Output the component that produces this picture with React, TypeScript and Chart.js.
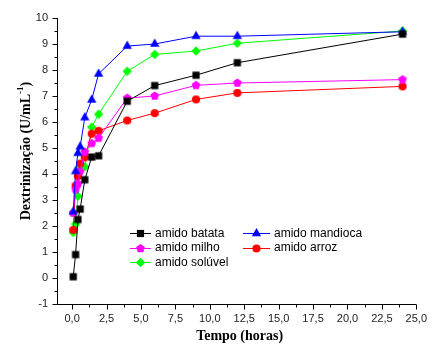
import React, { useEffect, useRef } from 'react';
import { Chart, registerables } from 'chart.js';

Chart.register(...registerables);

// ---- data ----
const timeHours = [0.08, 0.25, 0.42, 0.58, 0.92, 1.42, 1.92, 4, 6, 9, 12, 24];
const amidoBatata = [0.05, 0.9, 2.25, 2.65, 3.78, 4.65, 4.7, 6.8, 7.4, 7.8, 8.28, 9.38];
const amidoMandioca = [2.55, 4.1, 4.8, 5.05, 6.17, 6.85, 7.85, 8.92, 9.0, 9.3, 9.3, 9.47];
const amidoMilho = [2.5, 3.4, 3.62, 4.1, 4.85, 5.18, 5.38, 6.92, 7.0, 7.41, 7.5, 7.63];
const amidoArroz = [1.85, 3.55, 3.92, 4.4, 4.64, 5.55, 5.66, 6.06, 6.34, 6.87, 7.12, 7.37];
const amidoSoluvel = [1.75, 2.07, 3.15, 4.26, 4.28, 5.8, 6.3, 7.95, 8.6, 8.73, 9.03, 9.5];

const seriesNames = ['amido batata', 'amido mandioca', 'amido milho', 'amido arroz', 'amido solúvel'];
const xTickValues = [0, 2.5, 5, 7.5, 10, 12.5, 15, 17.5, 20, 22.5, 25];
const xTickLabels = ['0,0', '2,5', '5,0', '7,5', '10,0', '12,5', '15,0', '17,5', '20,0', '22,5', '25,0'];
const yTickValues = [-1, 0, 1, 2, 3, 4, 5, 6, 7, 8, 9, 10];
const yTickLabels = ['-1', '0', '1', '2', '3', '4', '5', '6', '7', '8', '9', '10'];
const xTitle = 'Tempo (horas)';
const yTitleMain = 'Dextrinização (U/mL';
const yTitleSup = '-1';
const yTitleEnd = ')';

type Shape = 'square' | 'triangle' | 'pentagon' | 'circle' | 'diamond';

function drawShape(ctx: CanvasRenderingContext2D, shape: Shape, x: number, y: number, color: string) {
  ctx.save();
  ctx.fillStyle = color;
  ctx.beginPath();
  if (shape === 'square') {
    ctx.rect(x - 3.6, y - 3.6, 7.2, 7.2);
  } else if (shape === 'triangle') {
    const r = 5.4;
    ctx.moveTo(x, y - r);
    ctx.lineTo(x + r * 0.866, y + r * 0.5);
    ctx.lineTo(x - r * 0.866, y + r * 0.5);
    ctx.closePath();
  } else if (shape === 'pentagon') {
    const r = 4.6;
    for (let i = 0; i < 5; i++) {
      const a = -Math.PI / 2 + (i * 2 * Math.PI) / 5;
      const px = x + r * Math.cos(a);
      const py = y + r * Math.sin(a);
      if (i === 0) ctx.moveTo(px, py);
      else ctx.lineTo(px, py);
    }
    ctx.closePath();
  } else if (shape === 'circle') {
    ctx.arc(x, y, 4.1, 0, Math.PI * 2);
  } else {
    const r = 4.7;
    ctx.moveTo(x, y - r);
    ctx.lineTo(x + r, y);
    ctx.lineTo(x, y + r);
    ctx.lineTo(x - r, y);
    ctx.closePath();
  }
  ctx.fill();
  ctx.restore();
}

function makeMarker(shape: Shape, color: string): HTMLCanvasElement {
  const c = document.createElement('canvas');
  c.width = 12;
  c.height = 12;
  const cx = c.getContext('2d')!;
  drawShape(cx, shape, 6, 6, color);
  return c;
}

const seriesColors = ['#000000', '#0000ff', '#ff00ff', '#ff0000', '#00ff00'];
const seriesShapes: Shape[] = ['square', 'triangle', 'pentagon', 'circle', 'diamond'];
const seriesValues = [amidoBatata, amidoMandioca, amidoMilho, amidoArroz, amidoSoluvel];

const decorPlugin = {
  id: 'decor',
  afterDraw(chart: any) {
    const { ctx, chartArea, scales } = chart;
    const xs = scales.x;
    const ys = scales.y;
    ctx.save();
    ctx.strokeStyle = '#000';
    ctx.lineWidth = 1;
    const L = Math.round(chartArea.left) + 0.5;
    const B = Math.round(chartArea.bottom) + 0.5;
    ctx.beginPath();
    ctx.moveTo(L, chartArea.top);
    ctx.lineTo(L, B);
    ctx.lineTo(chartArea.right, B);
    ctx.stroke();
    // y ticks
    ctx.beginPath();
    yTickValues.forEach((v) => {
      const p = Math.round(ys.getPixelForValue(v)) + 0.5;
      ctx.moveTo(L - 5, p);
      ctx.lineTo(L, p);
      const m = v - 0.5;
      if (m >= ys.min) {
        const pm = Math.round(ys.getPixelForValue(m)) + 0.5;
        ctx.moveTo(L - 3, pm);
        ctx.lineTo(L, pm);
      }
    });
    // x ticks
    xTickValues.forEach((v) => {
      const p = Math.round(xs.getPixelForValue(v)) + 0.5;
      ctx.moveTo(p, B);
      ctx.lineTo(p, B + 5);
      const m = v - 1.25;
      if (m >= xs.min) {
        const pm = Math.round(xs.getPixelForValue(m)) + 0.5;
        ctx.moveTo(pm, B);
        ctx.lineTo(pm, B + 3);
      }
    });
    ctx.stroke();

    // legend
    const rows = [233, 247.5, 262];
    const cols = [
      { x0: 130, x1: 151, mx: 140.5, tx: 155 },
      { x0: 243, x1: 270, mx: 256.5, tx: 274 },
    ];
    ctx.font = '12px "Liberation Sans", Arial, sans-serif';
    ctx.textBaseline = 'middle';
    ctx.textAlign = 'left';
    seriesNames.forEach((name, i) => {
      const r = Math.floor(i / 2);
      const c = cols[i % 2];
      const y = rows[r];
      ctx.strokeStyle = seriesColors[i];
      ctx.beginPath();
      ctx.moveTo(c.x0, Math.round(y) + 0.5);
      ctx.lineTo(c.x1, Math.round(y) + 0.5);
      ctx.stroke();
      drawShape(ctx, seriesShapes[i], c.mx, Math.round(y) + 0.5, seriesColors[i]);
      ctx.fillStyle = '#000';
      ctx.fillText(name, c.tx, y + 0.5);
    });

    // axis titles
    ctx.fillStyle = '#000';
    ctx.textAlign = 'center';
    ctx.textBaseline = 'middle';
    ctx.font = 'bold 14px "Liberation Serif", "Times New Roman", serif';
    ctx.fillText(xTitle, (chartArea.left + chartArea.right) / 2 + 3, 336);

    ctx.save();
    ctx.translate(26, 151);
    ctx.rotate(-Math.PI / 2);
    const mainFont = 'bold 14px "Liberation Serif", "Times New Roman", serif';
    const supFont = 'bold 9px "Liberation Serif", "Times New Roman", serif';
    ctx.font = mainFont;
    const w1 = ctx.measureText(yTitleMain).width;
    const w3 = ctx.measureText(yTitleEnd).width;
    ctx.font = supFont;
    const w2 = ctx.measureText(yTitleSup).width;
    const total = w1 + w2 + w3;
    let x = -total / 2;
    ctx.textAlign = 'left';
    ctx.textBaseline = 'middle';
    ctx.font = mainFont;
    ctx.fillText(yTitleMain, x, 0);
    x += w1;
    ctx.font = supFont;
    ctx.fillText(yTitleSup, x, -5);
    x += w2;
    ctx.font = mainFont;
    ctx.fillText(yTitleEnd, x, 0);
    ctx.restore();

    ctx.restore();
  },
};

export default function App() {
  const ref = useRef<HTMLCanvasElement | null>(null);
  useEffect(() => {
    if (!ref.current) return;
    const markers = seriesShapes.map((s, i) => makeMarker(s, seriesColors[i]));
    const chart = new Chart(ref.current, {
      type: 'line',
      data: {
        datasets: seriesNames.map((name, i) => ({
          label: name,
          data: timeHours.map((t, j) => ({ x: t, y: seriesValues[i][j] })),
          borderColor: seriesColors[i],
          backgroundColor: seriesColors[i],
          borderWidth: 1,
          pointStyle: markers[i] as any,
          pointRadius: 5,
          tension: 0,
          fill: false,
        })),
      },
      options: {
        animation: false,
        responsive: false,
        devicePixelRatio: 1,
        layout: { padding: { top: 18, right: 12, left: 0, bottom: 0 } },
        plugins: {
          legend: { display: false },
          tooltip: { enabled: false },
          title: { display: false },
        },
        scales: {
          x: {
            type: 'linear',
            min: -1.1,
            max: 25,
            grid: { display: false, drawTicks: false },
            border: { display: false },
            afterFit: (s: any) => {
              s.height = 41;
            },
            afterBuildTicks: (s: any) => {
              s.ticks = xTickValues.map((v) => ({ value: v }));
            },
            ticks: {
              padding: 8,
              autoSkip: false,
              maxRotation: 0,
              color: '#222',
              font: { size: 11, family: '"Liberation Sans", Arial, sans-serif' },
              callback: (v: any) => {
                const k = xTickValues.indexOf(Number(v));
                return k >= 0 ? xTickLabels[k] : '';
              },
            },
          },
          y: {
            type: 'linear',
            min: -1,
            max: 10,
            grid: { display: false, drawTicks: false },
            border: { display: false },
            afterFit: (s: any) => {
              s.width = 57;
            },
            afterBuildTicks: (s: any) => {
              s.ticks = yTickValues.map((v) => ({ value: v }));
            },
            ticks: {
              padding: 9,
              autoSkip: false,
              color: '#222',
              font: { size: 11, family: '"Liberation Sans", Arial, sans-serif' },
              callback: (v: any) => {
                const k = yTickValues.indexOf(Number(v));
                return k >= 0 ? yTickLabels[k] : '';
              },
            },
          },
        },
      },
      plugins: [decorPlugin],
    });
    return () => chart.destroy();
  }, []);
  return (
    <div style={{ position: 'fixed', left: 0, top: 0, width: 435, height: 345, background: '#fff' }}>
      <canvas ref={ref} width={435} height={345} style={{ width: 435, height: 345, display: 'block' }} />
    </div>
  );
}
